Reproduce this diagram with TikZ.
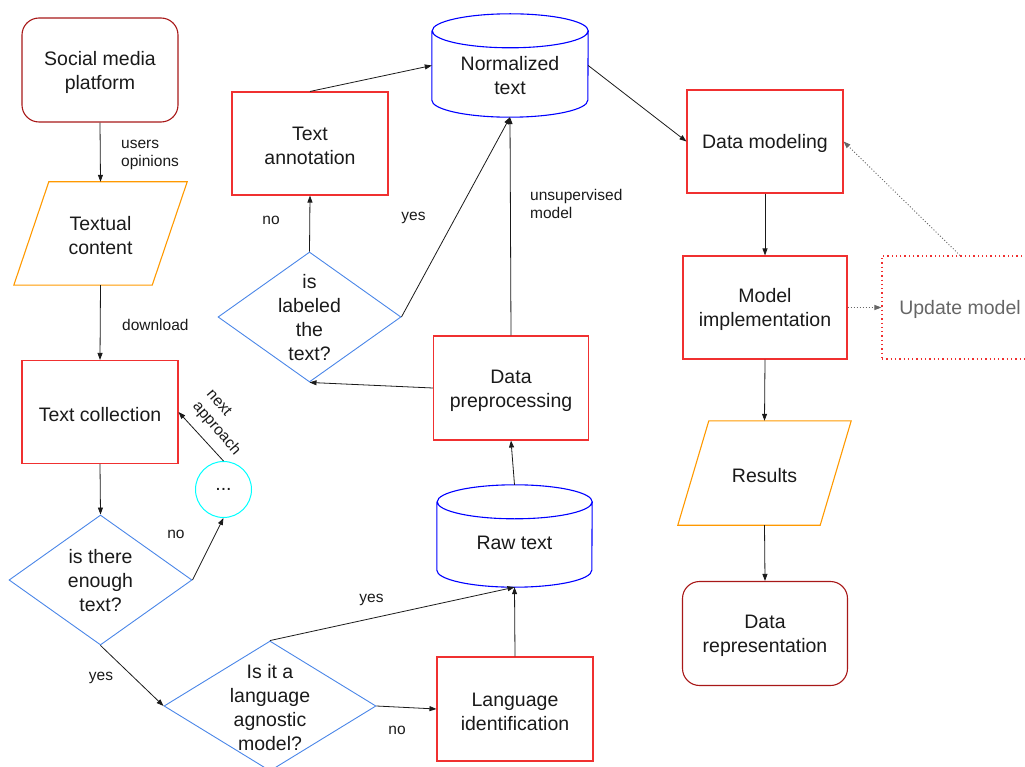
\documentclass[tikz,border=0pt]{standalone}
\usepackage{fontspec}
\setmainfont{Liberation Sans}
\usetikzlibrary{shapes.geometric,arrows.meta,calc}

\definecolor{termred}{HTML}{A81818}
\definecolor{procred}{HTML}{F03030}
\definecolor{decblue}{HTML}{4A86E8}
\definecolor{dbblue}{HTML}{0000FF}
\definecolor{ioorange}{HTML}{FF9900}
\definecolor{loopcyan}{HTML}{00FFFF}
\definecolor{ghost}{HTML}{666666}
\definecolor{ink}{HTML}{1A1A1A}

% full-ascent strut for the first line of boxed text
\newcommand\lnup{\rule{0pt}{0.95em}}

\tikzset{
  main/.style={font=\fontsize{19.5}{24}\selectfont, text=ink, align=center},
  small/.style={font=\fontsize{15.5}{18.5}\selectfont, text=ink, align=left, inner sep=0pt},
  terminal/.style={main, draw=termred, line width=1.1pt, rounded corners=17pt,
    minimum width=156pt, minimum height=104pt, inner sep=0pt},
  process/.style={main, draw=procred, line width=1.1pt,
    minimum width=156pt, minimum height=103pt, inner sep=0pt},
  decision/.style={diamond, draw=decblue, line width=0.9pt, inner sep=0pt},
  frame/.style={main, inner sep=0pt},
  ioline/.style={draw=ioorange, line width=1.1pt},
  drumline/.style={draw=dbblue, line width=1.1pt},
  flow/.style={draw=ink, line width=0.8pt, -{Triangle[length=7pt,width=5pt]}},
  ghostflow/.style={draw=ghost, line width=0.9pt, dash pattern=on 1pt off 2pt,
    -{Triangle[length=7pt,width=5pt]}},
}

% database drum around a frame node: #1 node name, #2 half width
\newcommand\drawdrum[2]{%
  \path[drumline]
    ([yshift=-17pt]#1.north west) -- ([yshift=17pt]#1.south west)
    arc[start angle=180, end angle=360, x radius=#2pt, y radius=17pt]
    -- ([yshift=-17pt]#1.north east)
    arc[start angle=0, end angle=180, x radius=#2pt, y radius=17pt]
    arc[start angle=180, end angle=360, x radius=#2pt, y radius=17pt];%
}

\begin{document}
\begin{tikzpicture}[x=1pt, y=-1pt]
\useasboundingbox (0,0) rectangle (1025,767);

% ---------- left column ----------
\node[terminal] (soc) at (100,70) {\lnup Social media\\platform};
\node[frame, minimum width=173pt, minimum height=103pt] (txt) at (100.5,233.5) {\lnup Textual\\content};
\path[ioline] (txt.south west) -- ([xshift=35pt]txt.north west) -- (txt.north east)
  -- ([xshift=-35pt]txt.south east) -- cycle;
\node[process] (coll) at (100,412) {\lnup Text collection};
\node[decision, minimum width=183pt, minimum height=130pt] (d1) at (100.5,580) {};
\node[main] (d1t) at (100.5,581) {is there\\enough\\text?};
\node[main, draw=loopcyan, line width=1pt, circle, minimum size=56pt, inner sep=0pt] (loop) at (223.5,489.5) {...};

% ---------- middle ----------
\node[decision, minimum width=212pt, minimum height=130pt] (d3) at (270,706) {};
\node[main] (d3t) at (270,708) {Is it a\\language\\agnostic\\model?};
\node[process, minimum height=104pt] (lang) at (515,709) {\lnup Language\\identification};
\node[frame, minimum width=155pt, minimum height=102pt] (raw) at (514.5,536) {};
\drawdrum{raw}{77.5}
\node[main] (rawt) at (514.5,543) {Raw text};
\node[process, minimum width=155pt, minimum height=104pt] (prep) at (511,388) {\lnup Data\\preprocessing};
\node[decision, minimum width=183pt, minimum height=130pt] (d2) at (309.5,317) {};
\node[main] (d2t) at (309.5,318) {is\\labeled\\the\\text?};
\node[process] (annot) at (310,143.5) {\lnup Text\\annotation};
\node[frame, minimum width=156pt, minimum height=103pt] (norm) at (510,65.5) {};
\drawdrum{norm}{78}
\node[main] (normt) at (510,75.5) {Normalized\\text};

% ---------- right column ----------
\node[process] (dm) at (765,141.5) {\lnup Data modeling};
\node[main, text=ghost, draw=procred, line width=1.1pt, dash pattern=on 1.3pt off 3pt,
  minimum width=156pt, minimum height=103pt, inner sep=0pt] (um) at (960,307.5) {\lnup Update model};
\node[process, minimum width=164pt] (mi) at (765,307.5) {\lnup Model\\implementation};
\node[frame, minimum width=173pt, minimum height=104pt] (res) at (764.5,473) {\lnup Results};
\path[ioline] (res.south west) -- ([xshift=31pt]res.north west) -- (res.north east)
  -- ([xshift=-31pt]res.south east) -- cycle;
\node[terminal, minimum width=165pt] (dr) at (765,633.5) {\lnup Data\\representation};

% ---------- connectors ----------
\draw[flow] (soc.south) -- (txt.north);
\draw[flow] (txt.south) -- (coll.north);
\draw[flow] (coll.south) -- (d1.north);
\draw[flow] (d1.east) -- (loop.south);
\draw[flow] (loop.north) -- (coll.east);
\draw[flow] (d1.south) -- (d3.west);
\draw[flow] (d3.east) -- (lang.west);
\draw[flow] (d3.north) -- (raw.south);
\draw[flow] (lang.north) -- (raw.south);
\draw[flow] (raw.north) -- (prep.south);
\draw[flow] (prep.west) -- (d2.south);
\draw[flow] (prep.north) -- (norm.south);
\draw[flow] (d2.east) -- (norm.south);
\draw[flow] (d2.north) -- (annot.south);
\draw[flow] (annot.north) -- (norm.west);
\draw[flow] (norm.east) -- (dm.west);
\draw[flow] (dm.south) -- (mi.north);
\draw[flow] (mi.south) -- (res.north);
\draw[flow] (res.south) -- (dr.north);
\draw[ghostflow] (mi.east) -- (um.west);
\draw[ghostflow] (um.north) -- (dm.east);

% ---------- connector labels ----------
\node[small, anchor=west] (lbUsers) at (121,155) {users\\opinions};
\node[small, anchor=west] (lbDownload) at (122,324.5) {download};
\node[small] (lbNoLoop) at (176,534) {no};
\node[small] (lbYesAgn) at (101,678) {yes};
\node[small] (lbYesRaw) at (371.5,600) {yes};
\node[small] (lbNoLang) at (397,730) {no};
\node[small] (lbNoAnnot) at (271,220) {no};
\node[small] (lbYesNorm) at (413.5,218) {yes};
\node[small, anchor=west] (lbUnsup) at (530,204) {unsupervised\\model};
\node[small, rotate=-49] (lbNext) at (223,423) {next\\approach};
\end{tikzpicture}
\end{document}
